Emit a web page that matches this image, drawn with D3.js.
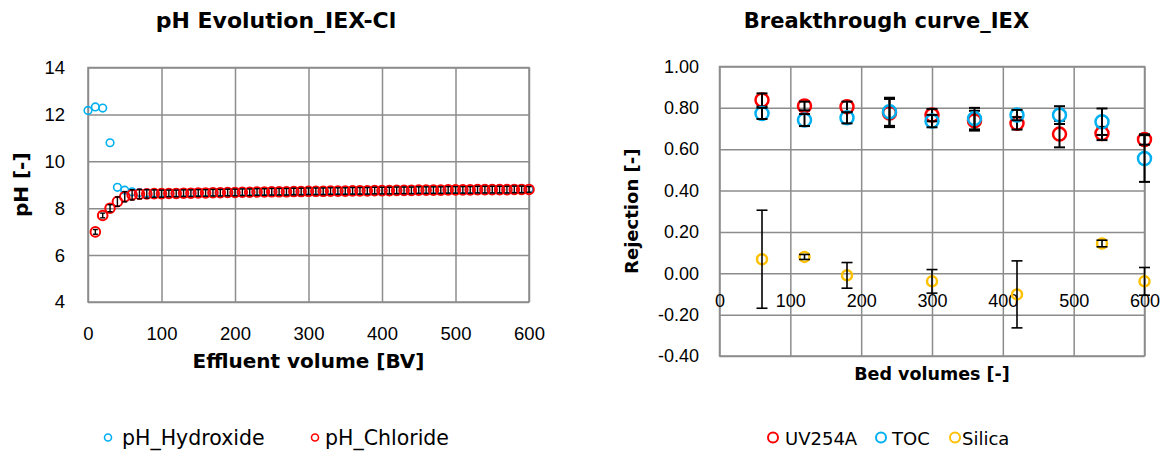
<!DOCTYPE html>
<html>
<head>
<meta charset="utf-8">
<script src="https://cdn.jsdelivr.net/npm/d3@7"></script>
<style>
  html, body { margin: 0; padding: 0; background: #fff; }
  svg { display: block; font-family: "DejaVu Sans", sans-serif; }
  .tick line { stroke: #8c8c8c; stroke-width: 1.5; }
  .tick text { fill: #000; }
</style>
</head>
<body>
<svg id="chart" width="1164" height="452"></svg>
<script>
// ---- pH evolution (left panel) ----
const phBV = [0,10,20,30,40,50,60,70,80,90,100,110,120,130,140,150,160,170,180,190,200,
  210,220,230,240,250,260,270,280,290,300,310,320,330,340,350,360,370,380,390,400,
  410,420,430,440,450,460,470,480,490,500,510,520,530,540,550,560,570,580,590,600];
const phHydroxide = [12.17,12.32,12.27,10.79,8.89,8.77,8.70,8.67,8.65,8.65,8.65,
  8.65,8.65,8.66,8.66,8.67,8.67,8.68,8.68,8.69,8.69,
  8.70,8.70,8.71,8.71,8.72,8.72,8.72,8.73,8.73,8.74,
  8.74,8.74,8.75,8.75,8.75,8.76,8.76,8.76,8.77,8.77,
  8.77,8.78,8.78,8.78,8.79,8.79,8.79,8.79,8.80,8.80,
  8.80,8.80,8.81,8.81,8.81,8.81,8.81,8.82,8.82,8.82];
// chloride run starts at 10 BV
const phChloride = [null,6.99,7.69,8.00,8.28,8.49,8.57,8.60,8.61,8.62,8.62,
  8.63,8.63,8.64,8.64,8.65,8.65,8.66,8.66,8.67,8.67,
  8.68,8.68,8.69,8.69,8.70,8.70,8.70,8.71,8.71,8.72,
  8.72,8.72,8.73,8.73,8.73,8.74,8.74,8.74,8.75,8.75,
  8.75,8.76,8.76,8.76,8.77,8.77,8.77,8.77,8.78,8.78,
  8.78,8.78,8.79,8.79,8.79,8.79,8.79,8.80,8.80,8.80];
const phChlorideErr = [null,0.10,0.10,0.15,0.20,0.22,0.22,0.20,0.18,0.16,0.15,
  0.14,0.14,0.14,0.14,0.14,0.14,0.14,0.14,0.14,0.14,
  0.14,0.14,0.14,0.14,0.14,0.14,0.14,0.14,0.14,0.14,
  0.14,0.14,0.14,0.14,0.14,0.14,0.14,0.14,0.14,0.14,
  0.14,0.14,0.14,0.14,0.14,0.14,0.14,0.14,0.14,0.14,
  0.14,0.14,0.14,0.14,0.14,0.14,0.14,0.14,0.14,0.12];
const phXTicks = [0,100,200,300,400,500,600];
const phYTicks = [4,6,8,10,12,14];

// ---- Breakthrough curve (right panel) ----
const bedVolumes = [60,120,180,240,300,360,420,480,540,600];
const uv254a    = [0.838,0.809,0.805,0.775,0.765,0.738,0.725,0.673,0.676,0.647];
const uv254aErr = [0.032,0.021,0.025,0.068,0.030,0.048,0.030,0.064,0.032,0.025];
const toc       = [0.773,0.741,0.752,0.781,0.736,0.748,0.765,0.765,0.733,0.555];
const tocErr    = [0.027,0.029,0.027,0.068,0.030,0.052,0.025,0.043,0.064,0.113];
const silica    = [0.068,0.079,-0.010,null,-0.039,null,-0.102,null,0.144,-0.039];
const silicaErr = [0.237,0.012,0.062,null,0.057,null,0.162,null,0.016,0.067];
const btXTicks = [0,100,200,300,400,500,600];
const btYTicks = [-0.4,-0.2,0,0.2,0.4,0.6,0.8,1.0];

const RED = "#ff0000", BLUE = "#00b0f0", GOLD = "#ffc000", GRID = "#8c8c8c";
const svg = d3.select("#chart");

function frame(g, x, y) {
  const [x0, x1] = x.range(), [y0, y1] = y.range();
  g.append("rect").attr("x", x0).attr("y", y1).attr("width", x1 - x0).attr("height", y0 - y1)
    .attr("fill", "none").attr("stroke", GRID).attr("stroke-width", 1.5);
}

function errorBars(g, x, y, xs, vals, errs, cap, width) {
  const pts = xs.map((v, i) => ({x: v, y: vals[i], e: errs[i]})).filter(d => d.y != null && d.e != null);
  const eg = g.append("g").attr("stroke", "#000").attr("stroke-width", width);
  pts.forEach(d => {
    const cx = x(d.x), top = y(d.y + d.e), bot = y(d.y - d.e);
    eg.append("line").attr("x1", cx).attr("x2", cx).attr("y1", top).attr("y2", bot);
    eg.append("line").attr("x1", cx - cap).attr("x2", cx + cap).attr("y1", top).attr("y2", top);
    eg.append("line").attr("x1", cx - cap).attr("x2", cx + cap).attr("y1", bot).attr("y2", bot);
  });
}

function markers(g, x, y, xs, vals, color, r, sw) {
  g.append("g").selectAll("circle")
    .data(xs.map((v, i) => ({x: v, y: vals[i]})).filter(d => d.y != null))
    .join("circle")
    .attr("cx", d => x(d.x)).attr("cy", d => y(d.y)).attr("r", r)
    .attr("fill", "none").attr("stroke", color).attr("stroke-width", sw);
}

// ===== Left panel =====
{
  const x = d3.scaleLinear().domain([0, 600]).range([88, 529]);
  const y = d3.scaleLinear().domain([4, 14]).range([302, 67.5]);
  const g = svg.append("g");
  const h = y.range()[0] - y.range()[1], w = x.range()[1] - x.range()[0];

  g.append("g").attr("transform", `translate(${x.range()[0]},0)`)
    .call(d3.axisLeft(y).tickValues(phYTicks).tickSize(-w).tickPadding(23).tickFormat(d3.format("d")))
    .call(a => a.select(".domain").remove())
    .selectAll("text").attr("font-size", 18.5);
  g.append("g").attr("transform", `translate(0,${y.range()[0]})`)
    .call(d3.axisBottom(x).tickValues(phXTicks).tickSize(-h).tickPadding(25).tickFormat(d3.format("d")))
    .call(a => a.select(".domain").remove())
    .selectAll("text").attr("font-size", 18.5);
  frame(g, x, y);

  markers(g, x, y, phBV, phHydroxide, BLUE, 3.8, 1.6);
  markers(g, x, y, phBV, phChloride, RED, 4.8, 2);
  errorBars(g, x, y, phBV, phChloride, phChlorideErr, 2.5, 1.4);

  g.append("text").attr("x", 276).attr("y", 28).attr("text-anchor", "middle")
    .attr("font-size", 22).attr("font-weight", "bold").text("pH Evolution_IEX-Cl");
  g.append("text").attr("x", (x.range()[0] + x.range()[1]) / 2).attr("y", 368).attr("text-anchor", "middle")
    .attr("font-size", 20).attr("font-weight", "bold").text("Effluent volume [BV]");
  g.append("text").attr("transform", `translate(28,${(y.range()[0] + y.range()[1]) / 2}) rotate(-90)`)
    .attr("text-anchor", "middle").attr("font-size", 20).attr("font-weight", "bold").text("pH [-]");

  const leg = [["pH_Hydroxide", BLUE, 108, 122], ["pH_Chloride", RED, 315, 325]];
  leg.forEach(([label, c, mx, tx]) => {
    g.append("circle").attr("cx", mx).attr("cy", 437.5).attr("r", 3.5)
      .attr("fill", "none").attr("stroke", c).attr("stroke-width", 1.6);
    g.append("text").attr("x", tx).attr("y", 444.5).attr("font-size", 20.5).text(label);
  });
}

// ===== Right panel =====
{
  const x = d3.scaleLinear().domain([0, 600]).range([719.5, 1144.5]);
  const y = d3.scaleLinear().domain([-0.4, 1.0]).range([356, 66.5]);
  const g = svg.append("g");
  const h = y.range()[0] - y.range()[1], w = x.range()[1] - x.range()[0];
  const fmt = v => v.toFixed(2);

  g.append("g").attr("transform", `translate(${x.range()[0]},0)`)
    .call(d3.axisLeft(y).tickValues(btYTicks).tickSize(-w).tickPadding(20.5).tickFormat(fmt))
    .call(a => a.select(".domain").remove())
    .selectAll("text").attr("font-size", 18);
  // vertical gridlines
  g.append("g").attr("transform", `translate(0,${y.range()[0]})`)
    .call(d3.axisBottom(x).tickValues(btXTicks).tickSize(-h).tickFormat(""))
    .call(a => a.select(".domain").remove());
  frame(g, x, y);
  // category labels sit on the zero line
  g.append("g").attr("transform", `translate(0,${y(0)})`)
    .call(d3.axisBottom(x).tickValues(btXTicks).tickSize(0).tickPadding(20.5).tickFormat(d3.format("d")))
    .call(a => a.select(".domain").remove())
    .selectAll("text").attr("font-size", 18);

  markers(g, x, y, bedVolumes, uv254a, RED, 6.5, 2.5);
  errorBars(g, x, y, bedVolumes, uv254a, uv254aErr, 5.5, 2);
  markers(g, x, y, bedVolumes, toc, BLUE, 6.5, 2.5);
  errorBars(g, x, y, bedVolumes, toc, tocErr, 5.5, 2);
  markers(g, x, y, bedVolumes, silica, GOLD, 5, 2.5);
  errorBars(g, x, y, bedVolumes, silica, silicaErr, 5.5, 1.6);

  g.append("text").attr("x", 886.5).attr("y", 28).attr("text-anchor", "middle")
    .attr("font-size", 21).attr("font-weight", "bold").text("Breakthrough curve_IEX");
  g.append("text").attr("x", (x.range()[0] + x.range()[1]) / 2).attr("y", 380).attr("text-anchor", "middle")
    .attr("font-size", 17.5).attr("font-weight", "bold").text("Bed volumes [-]");
  g.append("text").attr("transform", `translate(638,${(y.range()[0] + y.range()[1]) / 2}) rotate(-90)`)
    .attr("text-anchor", "middle").attr("font-size", 18).attr("font-weight", "bold").text("Rejection [-]");

  const leg = [["UV254A", RED, 773, 785], ["TOC", BLUE, 881, 892], ["Silica", GOLD, 955, 962]];
  leg.forEach(([label, c, mx, tx]) => {
    g.append("circle").attr("cx", mx).attr("cy", 437.5).attr("r", 5)
      .attr("fill", "none").attr("stroke", c).attr("stroke-width", 2);
    g.append("text").attr("x", tx).attr("y", 444.5).attr("font-size", 18).text(label);
  });
}
</script>
</body>
</html>
